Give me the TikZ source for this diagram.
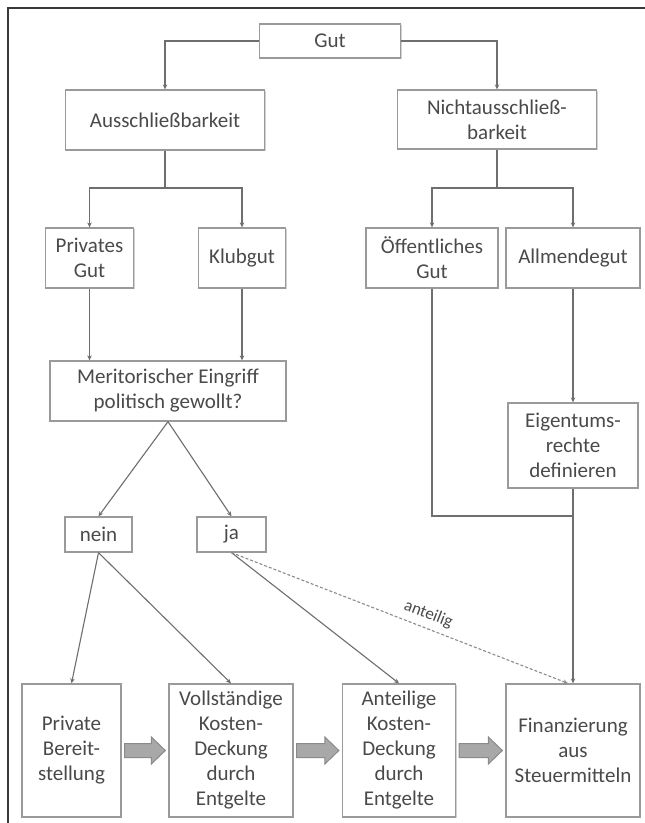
\documentclass[tikz,border=0pt]{standalone}
\usepackage{fontspec}
\setmainfont{Carlito}
\usetikzlibrary{arrows.meta,calc,shadows}
\definecolor{txt}{HTML}{4A4A4A}
\definecolor{bord}{HTML}{9A9A9A}
\definecolor{conc}{HTML}{6E6E6E}
\definecolor{frm}{HTML}{3A3A3A}
\definecolor{blkfill}{HTML}{A8A8A8}
\definecolor{blkdraw}{HTML}{8A8A8A}
\newcommand\blkarr[2]{%
  \draw[blk] let \p1=($(#1.east)+(3pt,0)$), \p2=($(#2.west)+(-3pt,0)$) in
    (\x1,\y1+7pt) -- (\x2-14pt,\y1+7pt) -- (\x2-14pt,\y1+13.5pt) -- (\x2,\y1)
    -- (\x2-14pt,\y1-13.5pt) -- (\x2-14pt,\y1-7pt) -- (\x1,\y1-7pt) -- cycle;}
\begin{document}
\begin{tikzpicture}[x=1pt,y=-1pt,
  box/.style={draw=bord, line width=1.3pt, fill=white, text=txt, align=center,
    inner sep=0pt, font=\fontsize{21}{25}\selectfont,
    drop shadow={shadow xshift=1pt, shadow yshift=-1pt, fill=black!18, opacity=1}},
  conn/.style={draw=conc, line width=1.1pt, -{Stealth[length=5pt,width=4.5pt]}},
  plain/.style={draw=conc, line width=1.1pt},
  dconn/.style={draw=conc!80, line width=1.1pt, dash pattern=on 3pt off 2pt, -{Stealth[length=5pt,width=4.5pt]}},
  blk/.style={fill=blkfill, draw=blkdraw, line width=1pt},
  lbl/.style={text=txt, font=\fontsize{17}{20}\selectfont, inner sep=0pt}]
\useasboundingbox (0,0) rectangle (645,823);
\fill[white] (0,0) rectangle (645,823);
% frame
\draw[frm, line width=1.6pt] (8,823) -- (8,8) -- (645,8);
% nodes
\node[box, minimum width=141, minimum height=34] (gut) at (330,41) {Gut};
\node[box, minimum width=199, minimum height=60] (aus) at (165,120) {Ausschließbarkeit};
\node[box, minimum width=199, minimum height=59] (nicht) at (497,119.5) {Nichtausschließ-\\barkeit};
\node[box, minimum width=88, minimum height=60] (pg) at (89.5,258) {Privates\\Gut};
\node[box, minimum width=87, minimum height=60] (kg) at (242,258) {Klubgut};
\node[box, minimum width=132, minimum height=60] (og) at (432,258) {Öffentliches\\Gut};
\node[box, minimum width=134, minimum height=60] (ag) at (573,258) {Allmendegut};
\node[box, minimum width=236, minimum height=60] (merit) at (168,391) {Meritorischer Eingriff\\politisch gewollt?};
\node[box, minimum width=130, minimum height=85] (eig) at (573,445.5) {Eigentums-\\rechte\\definieren};
\node[box, minimum width=67, minimum height=35] (nein) at (98.5,534.5) {nein};
\node[box, minimum width=69, minimum height=35] (ja) at (231.5,534.5) {ja};
\node[box, minimum width=99, minimum height=133] (pb) at (71.5,750.5) {Private\\Bereit-\\stellung};
\node[box, minimum width=124, minimum height=133] (vk) at (231,750.5) {Vollständige\\Kosten-\\Deckung\\durch\\Entgelte};
\node[box, minimum width=113, minimum height=133] (ak) at (399,750.5) {Anteilige\\Kosten-\\Deckung\\durch\\Entgelte};
\node[box, minimum width=134, minimum height=133] (fin) at (573,750.5) {Finanzierung\\aus\\Steuermitteln};
% junction coordinates
\coordinate (jl) at (165,188);
\coordinate (jrt) at (497,188);
\coordinate (jr) at (573,516);
% connectors
\draw[conn] (gut.west) -| (aus.north);
\draw[conn] (gut.east) -| (nicht.north);
\draw[plain] (aus.south) -- (jl);
\draw[conn] (jl) -| (pg.north);
\draw[conn] (jl) -| (kg.north);
\draw[plain] (nicht.south) -- (jrt);
\draw[conn] (jrt) -| (og.north);
\draw[conn] (jrt) -| (ag.north);
\draw[conn] (pg.south) -- (pg.south |- merit.north);
\draw[conn] (kg.south) -- (kg.south |- merit.north);
\draw[conn] (ag.south) -- (eig.north);
\draw[plain] (og.south) |- (jr);
\draw[conn] (eig.south) -- (fin.north);
\draw[conn] (merit.south) -- (nein.north);
\draw[conn] (merit.south) -- (ja.north);
\draw[conn] (nein.south) -- (pb.north);
\draw[conn] (nein.south) -- (vk.north);
\draw[conn] (ja.south) -- (ak.north);
\draw[dconn] (ja.south) -- node[lbl, sloped, pos=0.57, above=6pt] {anteilig} ($(fin.north)+(-5,0)$);
% block arrows
\blkarr{pb}{vk}
\blkarr{vk}{ak}
\blkarr{ak}{fin}
\end{tikzpicture}
\end{document}
